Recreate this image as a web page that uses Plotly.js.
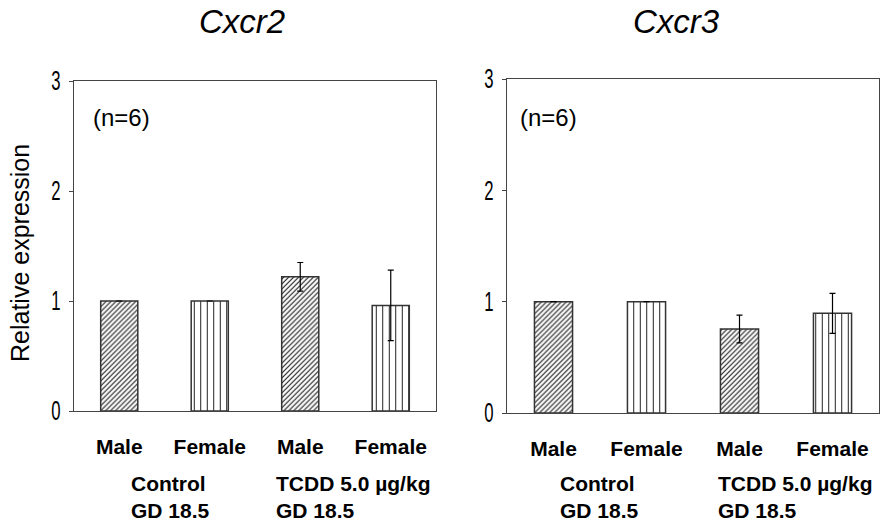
<!DOCTYPE html>
<html>
<head>
<meta charset="utf-8">
<script src="https://cdn.plot.ly/plotly-3.0.1.min.js"></script>
<style>html,body{margin:0;padding:0;background:#fff;}#chart{width:880px;height:523px;}</style>
</head>
<body>
<div id="chart"></div>
<script>
// ---- data ----
const categories = [0, 1, 2, 3];
const sexLabels = ["Male", "Female", "Male", "Female"];
const cxcr2Values = [1.0, 1.0, 1.22, 0.96];
const cxcr2Errors = [0, 0, 0.13, 0.32];
const cxcr3Values = [1.0, 1.0, 0.755, 0.895];
const cxcr3Errors = [0, 0, 0.125, 0.18];
const panelTitles = ["Cxcr2", "Cxcr3"];
const yTicks = [0, 1, 2, 3];
const groupLabels = ["Control<br>GD 18.5", "TCDD 5.0 µg/kg<br>GD 18.5"];
const nLabel = "(n=6)";
const yLabel = "Relative expression";

const shapes = ["/", "|", "/", "|"];
function barTrace(vals, errs, xa, ya) {
  return {
    type: "bar", x: categories, y: vals, xaxis: xa, yaxis: ya,
    width: 0.41,
    marker: {
      color: "#ffffff",
      line: {color: "#333333", width: 1.5},
      pattern: {shape: shapes, fgcolor: "#111111", bgcolor: "#ffffff", size: [3.5, 6.5, 3.5, 6.5], solidity: [0.3, 0.15, 0.3, 0.15]}
    },
    error_y: {type: "data", array: errs, visible: true, color: "#000000", thickness: 1.2, width: 3},
    showlegend: false, hoverinfo: "skip"
  };
}

const data = [
  barTrace(cxcr2Values, cxcr2Errors, "x", "y"),
  barTrace(cxcr3Values, cxcr3Errors, "x2", "y2")
];

const F = "Liberation Sans, Arial, sans-serif";
const xCommon = {
  range: [-0.5, 3.5], tickvals: categories, ticktext: sexLabels,
  ticks: "", showgrid: false, zeroline: false,
  showline: true, mirror: true, linecolor: "#444444", linewidth: 1,
  tickfont: {family: F, size: 21, color: "#000", weight: "bold"},
  ticklabelstandoff: 17, fixedrange: true
};
const yCommon = {
  range: [0, 3], tickvals: yTicks, ticks: "outside", ticklen: 4, tickcolor: "#444",
  showgrid: false, zeroline: false, showline: true, mirror: true,
  linecolor: "#444444", linewidth: 1,
  tickfont: {family: F, size: 27, color: "#000"},
  ticklabelstandoff: 3, fixedrange: true
};

function ann(text, x, y, size, extra) {
  return Object.assign({text: text, xref: "paper", yref: "paper", x: x / 880, y: 1 - y / 523,
    xanchor: "left", yanchor: "middle", showarrow: false, font: {family: F, size: size, color: "#000"}}, extra || {});
}

const layout = {
  width: 880, height: 523,
  margin: {l: 0, r: 0, t: 0, b: 0},
  paper_bgcolor: "#fff", plot_bgcolor: "#fff",
  xaxis: Object.assign({}, xCommon, {domain: [74/880, 436/880], anchor: "y"}),
  yaxis: Object.assign({}, yCommon, {domain: [1 - 411/523, 1 - 81/523], anchor: "x"}),
  xaxis2: Object.assign({}, xCommon, {domain: [507/880, 879/880], anchor: "y2"}),
  yaxis2: Object.assign({}, yCommon, {domain: [1 - 413/523, 1 - 79/523], anchor: "x2"}),
  annotations: [
    ann(panelTitles[0], 242, 22, 33, {xanchor: "center", font: {family: F, size: 33, style: "italic", color: "#000"}}),
    ann(panelTitles[1], 676, 22, 33, {xanchor: "center", font: {family: F, size: 33, style: "italic", color: "#000"}}),
    ann(yLabel, 20, 253, 25, {xanchor: "center", textangle: -90}),
    ann(nLabel, 91, 117, 24),
    ann(nLabel, 518, 117, 24),
    ann("<b>" + groupLabels[0] + "</b>", 129, 497, 21, {align: "left"}),
    ann("<b>" + groupLabels[1] + "</b>", 274, 497, 21, {align: "left"}),
    ann("<b>" + groupLabels[0] + "</b>", 558, 497, 21, {align: "left"}),
    ann("<b>" + groupLabels[1] + "</b>", 716, 497, 21, {align: "left"})
  ]
};

Plotly.newPlot("chart", data, layout, {displayModeBar: false, staticPlot: true}).then(function (gd) {
  // condensed look of the reference's y tick digits
  gd.querySelectorAll(".ytick text, .y2tick text").forEach(function (el) {
    const x = parseFloat(el.getAttribute("x")) || 0;
    const y = parseFloat(el.getAttribute("y")) || 0;
    const t = el.getAttribute("transform") || "";
    el.setAttribute("transform", t + " translate(" + x + "," + y + ") scale(0.62,1) translate(" + (-x) + "," + (-y) + ")");
  });
});
</script>
</body>
</html>
